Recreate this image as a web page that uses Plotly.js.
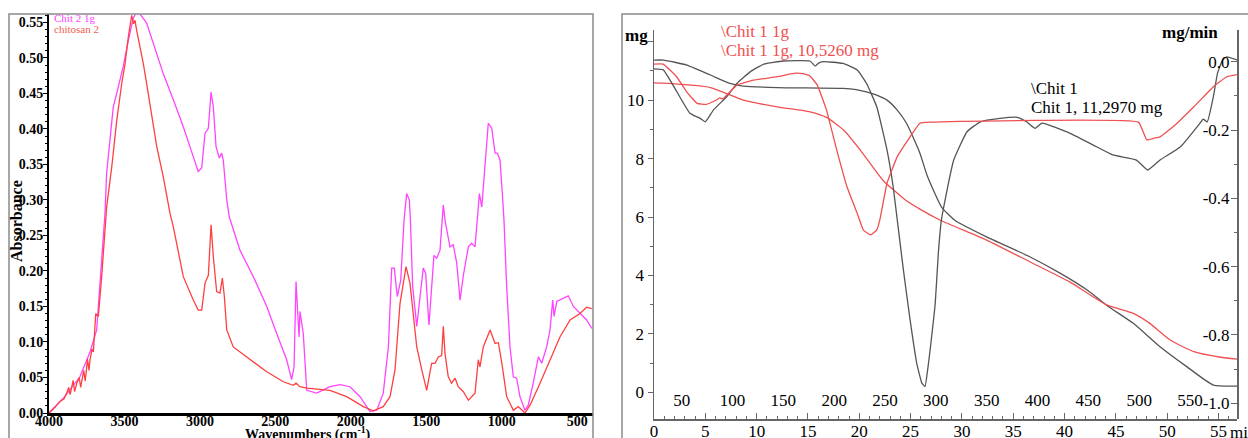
<!DOCTYPE html>
<html><head><meta charset="utf-8">
<script src="https://cdn.plot.ly/plotly-3.0.1.min.js"></script>
<style>html,body{margin:0;padding:0;background:#fff}#plot{width:1248px;height:438px}</style>
</head><body><div id="plot"></div>
<script>
// ---- FTIR (left panel) ----
const wnMag = [4000,3900,3795,3728,3684,3662,3640,3629,3618,3574,3541,3508,3474,3441,3419,3397,3353,3309,3264,3243,3176,3110,3044,3011,2988,2966,2944,2926,2911,2893,2871,2856,2845,2822,2805,2734,2646,2557,2491,2425,2392,2376,2363,2352,2343,2337,2315,2292,2226,2138,2072,2005,1939,1873,1828,1785,1751,1729,1712,1692,1669,1647,1630,1612,1605,1590,1563,1541,1520,1504,1482,1464,1449,1431,1409,1387,1376,1343,1321,1298,1276,1254,1221,1199,1177,1162,1148,1132,1111,1089,1066,1044,1029,1011,993,985,967,945,923,901,879,846,824,791,757,735,702,680,662,653,635,592,559,525,481,437,403];
const absMag = [0.000,0.022,0.051,0.086,0.117,0.178,0.244,0.281,0.338,0.431,0.459,0.488,0.525,0.556,0.565,0.562,0.549,0.520,0.492,0.478,0.441,0.403,0.361,0.340,0.345,0.394,0.401,0.452,0.431,0.375,0.359,0.366,0.356,0.300,0.276,0.229,0.192,0.150,0.112,0.075,0.047,0.065,0.185,0.131,0.107,0.143,0.112,0.032,0.028,0.037,0.040,0.037,0.023,0.002,0.004,0.028,0.093,0.204,0.204,0.164,0.187,0.272,0.309,0.300,0.272,0.178,0.122,0.164,0.204,0.197,0.124,0.178,0.222,0.218,0.229,0.293,0.272,0.234,0.237,0.211,0.159,0.194,0.234,0.239,0.234,0.272,0.309,0.290,0.347,0.408,0.401,0.366,0.366,0.356,0.300,0.272,0.178,0.093,0.051,0.049,0.023,0.004,0.011,0.042,0.079,0.070,0.093,0.117,0.159,0.136,0.157,0.161,0.165,0.150,0.140,0.131,0.119];

const wnRed = [4000,3960,3930,3900,3883,3870,3860,3840,3830,3816,3800,3790,3770,3760,3750,3745,3735,3728,3715,3706,3690,3673,3651,3636,3618,3584,3551,3518,3496,3474,3452,3440,3430,3419,3397,3375,3353,3319,3286,3243,3198,3176,3110,3044,3011,2988,2966,2944,2926,2911,2889,2867,2851,2838,2822,2779,2668,2557,2447,2381,2363,2337,2292,2138,2027,1917,1851,1785,1740,1707,1674,1634,1608,1586,1563,1530,1497,1475,1464,1442,1420,1398,1387,1376,1354,1332,1309,1288,1254,1221,1177,1155,1144,1122,1077,1044,1022,999,967,923,890,846,812,746,680,614,547,481,437,403];
const absRed = [0.000,0.008,0.016,0.020,0.028,0.036,0.026,0.046,0.030,0.042,
  0.050,0.036,0.060,0.045,0.065,0.076,0.060,0.075,0.090,0.086,
  0.140,0.136,0.192,0.244,0.290,0.347,0.412,0.464,0.492,0.530,
  0.560,0.548,0.553,0.539,0.516,0.492,0.464,0.417,0.375,0.333,
  0.281,0.262,0.192,0.159,0.145,0.145,0.183,0.194,0.265,0.220,
  0.171,0.169,0.190,0.164,0.117,0.093,0.075,0.058,0.044,0.039,
  0.042,0.037,0.035,0.032,0.023,0.009,0.003,0.009,0.023,0.061,
  0.154,0.206,0.183,0.140,0.093,0.061,0.032,0.058,0.070,0.070,
  0.079,0.081,0.122,0.084,0.051,0.042,0.049,0.037,0.030,0.018,
  0.028,0.075,0.065,0.093,0.117,0.098,0.099,0.070,0.023,0.004,
  0.009,0.000,0.011,0.042,0.075,0.107,0.131,0.140,0.149,0.147];

const wnTicks = [4000,3500,3000,2500,2000,1500,1000,500];
const absTicks = [0,0.05,0.10,0.15,0.20,0.25,0.30,0.35,0.40,0.45,0.50,0.55];
const ftirNames = ["Chit 2 1g","chitosan 2"];

// ---- TGA (right panel) ----
const tGrayTG = [0,0.9,3.2,5.5,7.4,8.7,12.0,18.4,19.7,20.7,21.7,22.7,23.7,24.6,25.9,26.6,28.0,29.3,32.4,36.6,39.6,42.2,44.3,46.7,49.3,51.9,54.5,57.6];
const grayTG = [11.37,11.37,11.20,10.86,10.57,10.48,10.43,10.40,10.36,10.28,10.17,10.00,9.66,9.21,8.19,7.43,6.35,5.89,5.32,4.64,4.07,3.50,2.93,2.36,1.56,0.88,0.25,0.22];

const tGrayDTG = [0,0.9,3.5,4.5,5.0,5.8,7.1,8.1,9.4,10.7,12.6,15.2,15.7,16.0,16.5,18.4,19.8,20.7,21.7,22.7,23.3,23.7,24.3,24.95,25.6,26.1,26.4,26.7,26.9,27.4,27.7,28.0,29.2,30.5,31.8,33.7,35.4,36.3,37.1,37.8,40.5,42.8,44.7,47.0,48.1,49.3,51.3,53.2,53.5,53.9,54.5,54.9,55.4,55.8,56.8];
const grayDTG = [-0.021,-0.024,-0.151,-0.166,-0.176,-0.141,-0.102,-0.063,-0.029,-0.007,0.002,0.002,-0.013,-0.005,0.000,-0.005,-0.024,-0.063,-0.132,-0.258,-0.366,-0.463,-0.610,-0.756,-0.883,-0.941,-0.951,-0.893,-0.844,-0.707,-0.561,-0.463,-0.288,-0.205,-0.176,-0.166,-0.163,-0.176,-0.195,-0.180,-0.209,-0.244,-0.273,-0.288,-0.317,-0.288,-0.249,-0.180,-0.168,-0.176,-0.102,-0.034,0.005,0.014,0.005];

const tRedTG = [0,0.9,5.5,8.7,12.0,15.2,16.8,18.5,20.1,22.3,24.5,25.9,27.9,32.4,36.6,40.5,44.1,46.7,48.3,50.3,52.6,55.2,57.6];
const redTG = [10.59,10.58,10.43,10.00,9.77,9.60,9.41,8.97,8.29,7.26,6.58,6.27,5.89,5.21,4.47,3.78,2.99,2.70,2.36,1.79,1.39,1.20,1.11];

const tRedDTG = [0,0.9,2.2,3.2,4.2,5.1,6.1,6.4,6.7,8.1,9.7,12.0,13.6,14.5,15.2,15.9,16.8,17.8,18.8,19.8,20.4,21.1,21.7,22.0,22.7,23.7,24.95,25.9,26.9,47.2,48.0,48.7,49.3,50.6,52.6,54.5,55.8,57.9];
const redDTG = [-0.007,-0.007,-0.044,-0.089,-0.122,-0.125,-0.112,-0.106,-0.109,-0.068,-0.054,-0.044,-0.034,-0.035,-0.042,-0.068,-0.141,-0.258,-0.366,-0.444,-0.493,-0.507,-0.493,-0.463,-0.356,-0.278,-0.220,-0.180,-0.177,-0.177,-0.229,-0.224,-0.220,-0.190,-0.132,-0.073,-0.044,-0.032];

const timeTicks = [0,5,10,15,20,25,30,35,40,45,50,55];
const tempTicks = [50,100,150,200,250,300,350,400,450,500,550];
const mgTicks = [0,2,4,6,8,10,12];
const mgTickText = ["0","2","4","6","8","10",""];
const dtgTicks = [0,-0.2,-0.4,-0.6,-0.8,-1.0];
const dtgTickText = ["0.0","-0.2","-0.4","-0.6","-0.8","-1.0"];

const W = 1248, H = 438;
const px = v => v / W;
const py = v => (H - v) / H;
const SERIF = "Liberation Serif, Times New Roman, serif";
const MAG = "#ff44ff", RED = "#ff4040", TRED = "#f05050", GRAY = "#555555";

const traces = [
  {x: wnMag, y: absMag, xaxis: "x", yaxis: "y", mode: "lines", name: ftirNames[0], line: {color: MAG, width: 1.3}},
  {x: wnRed, y: absRed, xaxis: "x", yaxis: "y", mode: "lines", name: ftirNames[1], line: {color: RED, width: 1.3}},
  {x: tGrayTG, y: grayTG, xaxis: "x2", yaxis: "y2", mode: "lines", name: "Chit 1 TG", line: {color: GRAY, width: 1.3, shape: "spline", smoothing: 0.5}},
  {x: tRedTG, y: redTG, xaxis: "x2", yaxis: "y2", mode: "lines", name: "Chit 1 1g TG", line: {color: TRED, width: 1.3, shape: "spline", smoothing: 0.5}},
  {x: tGrayDTG, y: grayDTG, xaxis: "x2", yaxis: "y3", mode: "lines", name: "Chit 1 DTG", line: {color: GRAY, width: 1.3, shape: "spline", smoothing: 0.4}},
  {x: tRedDTG, y: redDTG, xaxis: "x2", yaxis: "y3", mode: "lines", name: "Chit 1 1g DTG", line: {color: TRED, width: 1.3, shape: "spline", smoothing: 0.3}},
  {x: [], y: [], xaxis: "x3", yaxis: "y2", mode: "lines", showlegend: false, hoverinfo: "skip"}
];

const leftDomX = [px(49), px(593)];
const leftDomY = [py(413), py(14)];
const rightDomX = [px(654), px(1237)];
const rightDomY = [py(419), py(30)];

const layout = {
  width: W, height: H,
  margin: {l: 0, r: 0, t: 0, b: 0, pad: 0},
  paper_bgcolor: "#fff", plot_bgcolor: "#fff",
  showlegend: false,
  font: {family: SERIF, color: "#000"},
  xaxis: {
    domain: leftDomX, anchor: "y", range: [4000, 395],
    showline: true, linecolor: "#000", linewidth: 3, mirror: false,
    ticks: "", tickvals: wnTicks, ticktext: wnTicks.map(String),
    ticklabelstandoff: -7,
    tickfont: {family: SERIF, size: 14, weight: "bold", color: "#000"},
    showgrid: false, zeroline: false
  },
  yaxis: {
    domain: leftDomY, anchor: "x", range: [0, 0.5619],
    showline: true, linecolor: "#000", linewidth: 2,
    ticks: "outside", ticklen: 4, tickcolor: "#000", tickwidth: 1,
    tickvals: absTicks, ticktext: absTicks.map(v => v.toFixed(2)),
    ticklabelstandoff: -3,
    minor: {dtick: 0.01, tick0: 0, ticks: "outside", ticklen: 2, tickcolor: "#000"},
    tickfont: {family: SERIF, size: 14, weight: "bold", color: "#000"},
    showgrid: false, zeroline: false
  },
  xaxis2: {
    domain: rightDomX, anchor: "y2", range: [0, 56.8],
    showline: true, linecolor: "#666", linewidth: 1.5,
    ticks: "inside", ticklen: 6, tickcolor: "#666",
    tickvals: timeTicks, ticktext: timeTicks.map(String),
    ticklabelstandoff: -4,
    minor: {dtick: 1, tick0: 0, ticks: "inside", ticklen: 3, tickcolor: "#666"},
    tickfont: {family: SERIF, size: 17, color: "#000"},
    showgrid: false, zeroline: false
  },
  xaxis3: {
    domain: rightDomX, anchor: "free", position: py(388), overlaying: "x2", side: "bottom",
    range: [22.75, 596.2],
    showline: false, ticks: "",
    tickvals: tempTicks, ticktext: tempTicks.map(String),
    tickfont: {family: SERIF, size: 17, color: "#000"},
    showgrid: false, zeroline: false
  },
  yaxis2: {
    domain: rightDomY, anchor: "x2", range: [-0.913, 12.40],
    showline: true, linecolor: "#666", linewidth: 1.5,
    ticks: "outside", ticklen: 5, tickcolor: "#666",
    tickvals: mgTicks, ticktext: mgTickText,
    minor: {dtick: 1, tick0: 0, ticks: "outside", ticklen: 3, tickcolor: "#666"},
    tickfont: {family: SERIF, size: 17, color: "#000"},
    showgrid: false, zeroline: false
  },
  yaxis3: {
    domain: rightDomY, anchor: "free", position: px(1237), overlaying: "y2", side: "left",
    range: [-1.046, 0.0928],
    showline: true, linecolor: "#666", linewidth: 1.5,
    ticks: "outside", ticklen: 6, tickcolor: "#666",
    tickvals: dtgTicks, ticktext: dtgTickText,
    ticklabelstandoff: -2,
    minor: {dtick: 0.1, tick0: 0, ticks: "outside", ticklen: 3, tickcolor: "#666"},
    tickfont: {family: SERIF, size: 17, color: "#000"},
    showgrid: false, zeroline: false
  },
  shapes: [
    {type: "rect", xref: "paper", yref: "paper", x0: px(9), x1: px(593), y0: -0.1, y1: py(14),
     line: {color: "#8a8a8a", width: 1.5}, fillcolor: "rgba(0,0,0,0)", layer: "above"},
    {type: "rect", xref: "paper", yref: "paper", x0: px(622), x1: 1.1, y0: -0.1, y1: py(14),
     line: {color: "#8a8a8a", width: 1.5}, fillcolor: "rgba(0,0,0,0)", layer: "below"}
  ],
  annotations: [
    {xref: "paper", yref: "paper", x: px(17), y: py(221), text: "Absorbance", textangle: -90, showarrow: false,
     font: {family: SERIF, size: 16, weight: "bold", color: "#000"}, xanchor: "center", yanchor: "middle"},
    {xref: "paper", yref: "paper", x: px(308), y: py(433), text: "Wavenumbers (cm<sup>-1</sup>)", showarrow: false,
     font: {family: SERIF, size: 14, weight: "bold", color: "#000"}, xanchor: "center", yanchor: "middle"},
    {xref: "paper", yref: "paper", x: px(52), y: py(18), text: ftirNames[0], showarrow: false,
     font: {family: SERIF, size: 11, color: MAG}, xanchor: "left", yanchor: "middle"},
    {xref: "paper", yref: "paper", x: px(52), y: py(29), text: ftirNames[1], showarrow: false,
     font: {family: SERIF, size: 11, color: "#f06050"}, xanchor: "left", yanchor: "middle"},
    {xref: "paper", yref: "paper", x: px(636), y: py(35), text: "mg", showarrow: false,
     font: {family: SERIF, size: 17, weight: "bold", color: "#000"}, xanchor: "center", yanchor: "middle"},
    {xref: "paper", yref: "paper", x: px(1190), y: py(32), text: "mg/min", showarrow: false,
     font: {family: SERIF, size: 17, weight: "bold", color: "#000"}, xanchor: "center", yanchor: "middle"},
    {xref: "paper", yref: "paper", x: px(719), y: py(31), text: "\\Chit 1 1g", showarrow: false,
     font: {family: SERIF, size: 17, color: TRED}, xanchor: "left", yanchor: "middle"},
    {xref: "paper", yref: "paper", x: px(719), y: py(50), text: "\\Chit 1 1g, 10,5260 mg", showarrow: false,
     font: {family: SERIF, size: 17, color: TRED}, xanchor: "left", yanchor: "middle"},
    {xref: "paper", yref: "paper", x: px(1029), y: py(88), text: "\\Chit 1", showarrow: false,
     font: {family: SERIF, size: 17, color: "#000"}, xanchor: "left", yanchor: "middle"},
    {xref: "paper", yref: "paper", x: px(1029), y: py(107), text: "Chit 1, 11,2970 mg", showarrow: false,
     font: {family: SERIF, size: 17, color: "#000"}, xanchor: "left", yanchor: "middle"},
    {xref: "paper", yref: "paper", x: px(1228), y: py(432), text: "min", showarrow: false,
     font: {family: SERIF, size: 17, color: "#000"}, xanchor: "left", yanchor: "middle"}
  ]
};

Plotly.newPlot("plot", traces, layout, {displayModeBar: false, staticPlot: true});
</script>
</body></html>
